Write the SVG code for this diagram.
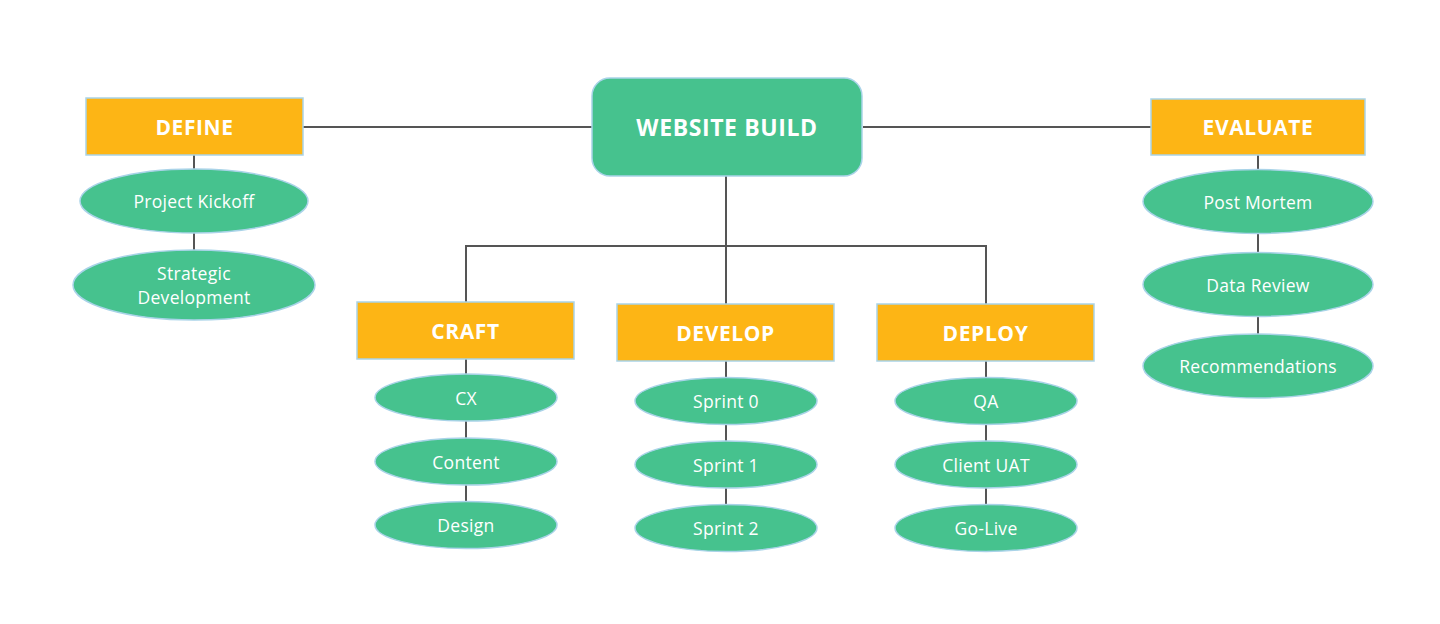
<svg xmlns="http://www.w3.org/2000/svg" width="1440" height="624" viewBox="0 0 1440 624">
<style>
.hub{fill:#46C28E;stroke:#A9D3E8;stroke-width:1.5}
.phase{fill:#FDB515;stroke:#A9D3E8;stroke-width:1.5}
.task{fill:#46C28E;stroke:#A9D3E8;stroke-width:1.5}
.ht{font-family:"Open Sans","Liberation Sans",sans-serif;font-weight:700;fill:#fff;text-anchor:middle;dominant-baseline:central;letter-spacing:0.6px}
.tt{font-family:"Open Sans","Liberation Sans",sans-serif;font-weight:500;font-size:17.5px;fill:#fff;text-anchor:middle;dominant-baseline:central;letter-spacing:0.3px}
.conn line,.conn path{stroke:#555;stroke-width:2;fill:none}
</style>
<rect width="1440" height="624" fill="#fff"/>
<g class="conn">
<line x1="303" y1="127" x2="592" y2="127"/>
<line x1="863" y1="127" x2="1151" y2="127"/>
<line x1="726" y1="176" x2="726" y2="304"/>
<path d="M466 302 V246 H986 V304"/>
<line x1="194" y1="155" x2="194" y2="169"/>
<line x1="194" y1="233" x2="194" y2="250"/>
<line x1="1258" y1="155" x2="1258" y2="169"/>
<line x1="1258" y1="234" x2="1258" y2="252"/>
<line x1="1258" y1="317" x2="1258" y2="334"/>
<line x1="466" y1="359" x2="466" y2="374"/>
<line x1="466" y1="421" x2="466" y2="438"/>
<line x1="466" y1="485" x2="466" y2="502"/>
<line x1="726" y1="361" x2="726" y2="378"/>
<line x1="726" y1="424" x2="726" y2="441"/>
<line x1="726" y1="488" x2="726" y2="504"/>
<line x1="986" y1="361" x2="986" y2="378"/>
<line x1="986" y1="424" x2="986" y2="441"/>
<line x1="986" y1="488" x2="986" y2="504"/>
</g>
<g id="website-build"><rect class="hub" x="592" y="78" width="270" height="98" rx="18"/><text class="ht" x="727" y="127" font-size="23">WEBSITE BUILD</text></g>
<g id="define"><rect class="phase" x="86" y="98" width="217" height="57"/><text class="ht" x="194.5" y="127" font-size="21">DEFINE</text></g>
<g id="project-kickoff"><ellipse class="task" cx="194" cy="201" rx="114" ry="32"/><text class="tt" x="194" y="201">Project Kickoff</text></g>
<g id="strategic-development"><ellipse class="task" cx="194" cy="285" rx="121" ry="35"/><text class="tt" x="194" y="285"><tspan x="194" dy="-12">Strategic</tspan><tspan x="194" dy="24">Development</tspan></text></g>
<g id="evaluate"><rect class="phase" x="1151" y="99" width="214" height="56"/><text class="ht" x="1258" y="127" font-size="21">EVALUATE</text></g>
<g id="post-mortem"><ellipse class="task" cx="1258" cy="201.5" rx="115" ry="32"/><text class="tt" x="1258" y="201.5">Post Mortem</text></g>
<g id="data-review"><ellipse class="task" cx="1258" cy="284.5" rx="115" ry="32"/><text class="tt" x="1258" y="284.5">Data Review</text></g>
<g id="recommendations"><ellipse class="task" cx="1258" cy="366" rx="115" ry="32"/><text class="tt" x="1258" y="366">Recommendations</text></g>
<g id="craft"><rect class="phase" x="357" y="302" width="217" height="57"/><text class="ht" x="465.5" y="330.5" font-size="21">CRAFT</text></g>
<g id="cx"><ellipse class="task" cx="466" cy="397.5" rx="91" ry="23.5"/><text class="tt" x="466" y="397.5">CX</text></g>
<g id="content"><ellipse class="task" cx="466" cy="461.5" rx="91" ry="23.5"/><text class="tt" x="466" y="461.5">Content</text></g>
<g id="design"><ellipse class="task" cx="466" cy="525" rx="91" ry="23.5"/><text class="tt" x="466" y="525">Design</text></g>
<g id="develop"><rect class="phase" x="617" y="304" width="217" height="57"/><text class="ht" x="725.5" y="332.5" font-size="21">DEVELOP</text></g>
<g id="sprint-0"><ellipse class="task" cx="726" cy="401" rx="91" ry="23.5"/><text class="tt" x="726" y="401">Sprint 0</text></g>
<g id="sprint-1"><ellipse class="task" cx="726" cy="464.5" rx="91" ry="23.5"/><text class="tt" x="726" y="464.5">Sprint 1</text></g>
<g id="sprint-2"><ellipse class="task" cx="726" cy="528" rx="91" ry="23.5"/><text class="tt" x="726" y="528">Sprint 2</text></g>
<g id="deploy"><rect class="phase" x="877" y="304" width="217" height="57"/><text class="ht" x="985.5" y="332.5" font-size="21">DEPLOY</text></g>
<g id="qa"><ellipse class="task" cx="986" cy="401" rx="91" ry="23.5"/><text class="tt" x="986" y="401">QA</text></g>
<g id="client-uat"><ellipse class="task" cx="986" cy="464.5" rx="91" ry="23.5"/><text class="tt" x="986" y="464.5">Client UAT</text></g>
<g id="go-live"><ellipse class="task" cx="986" cy="528" rx="91" ry="23.5"/><text class="tt" x="986" y="528">Go-Live</text></g>
</svg>
